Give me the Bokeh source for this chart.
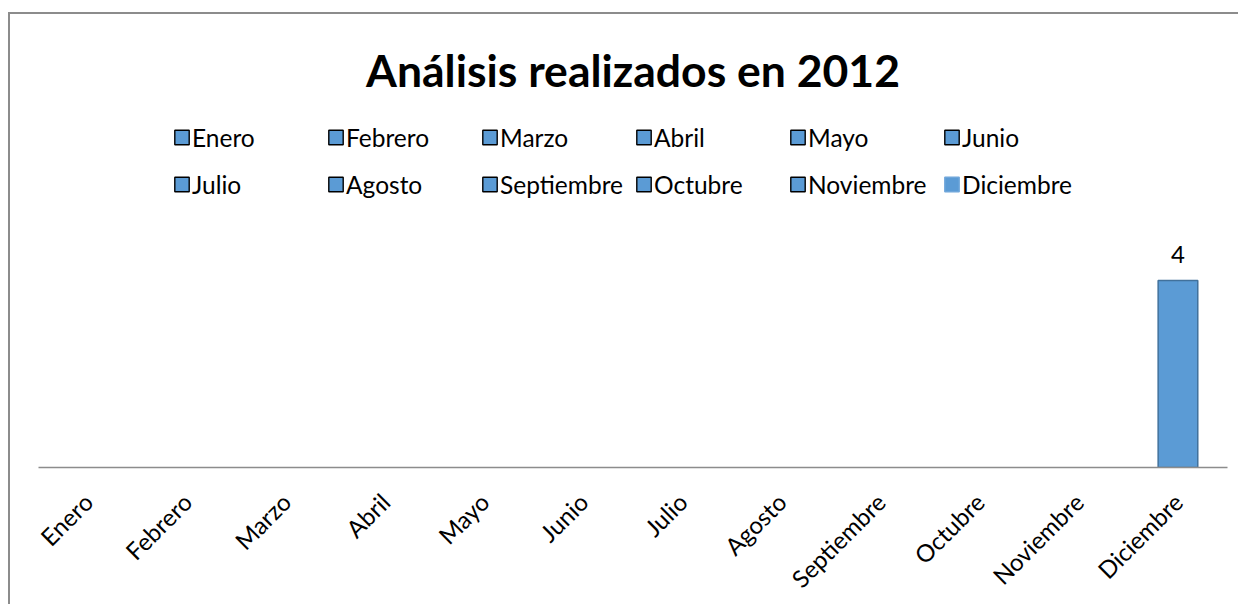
import math
from bokeh.plotting import figure
from bokeh.models import ColumnDataSource, FactorRange, Range1d, Legend, LegendItem, LabelSet
from bokeh.core.properties import value
from bokeh.embed import file_html
from bokeh.resources import INLINE

# ---- data ----
title_text = "Análisis realizados en 2012"
months = ["Enero", "Febrero", "Marzo", "Abril", "Mayo", "Junio",
          "Julio", "Agosto", "Septiembre", "Octubre", "Noviembre", "Diciembre"]
values = [0, 0, 0, 0, 0, 0, 0, 0, 0, 0, 0, 4]

# ---- styles ----
FONT = "Lato"
BAR_FILL = "#5B9BD5"
BAR_LINE = "#41719C"
AXIS_GRAY = "#8C8C8C"

bar_line_alpha = [1.0 if v > 0 else 0.0 for v in values]
legend_line = ["#000000" if v == 0 else "#6FA6DA" for v in values]

src = ColumnDataSource(dict(month=months, value=values,
                            bar_line_alpha=bar_line_alpha,
                            legend_line=legend_line))

lbl_months = [m for m, v in zip(months, values) if v > 0]
lbl_values = [v for v in values if v > 0]
lbl_src = ColumnDataSource(dict(month=lbl_months, value=lbl_values,
                                text=[str(v) for v in lbl_values]))

p = figure(x_range=FactorRange(*months, range_padding=0),
           y_range=Range1d(0, 7.74),
           width=1230, height=592,
           output_backend="svg", toolbar_location=None,
           min_border_left=28, min_border_right=13,
           min_border_top=91, min_border_bottom=139)

p.styles = {"border-top": f"2px solid {AXIS_GRAY}",
            "border-left": f"2px solid {AXIS_GRAY}",
            "margin-top": "12px",
            "margin-left": "8px"}

p.vbar(x="month", top="value", bottom=0, width=0.4, source=src,
       fill_color=BAR_FILL, line_color=BAR_LINE,
       line_alpha="bar_line_alpha", line_width=1.5)

legend_r = p.vbar(x="month", top="value", bottom=0, width=0.4, source=src,
                  fill_color=BAR_FILL, line_color="legend_line",
                  line_width=1.4, visible=False)

labels = LabelSet(x="month", y="value", text="text", source=lbl_src,
                  text_align="center", text_baseline="alphabetic",
                  y_offset=17, text_font=value(FONT), text_font_size="24px",
                  text_color="#000000")
p.add_layout(labels)

legend = Legend(items=[LegendItem(label=m, renderers=[legend_r], index=i)
                       for i, m in enumerate(months)],
                location="top_center", orientation="horizontal", ncols=6,
                label_text_font=FONT, label_text_font_size="24.5px",
                label_text_color="#000000",
                glyph_width=18, glyph_height=18, label_standoff=2,
                label_width=131, label_height=44, spacing=3,
                padding=0, margin=10,
                border_line_alpha=0, background_fill_alpha=0)
p.add_layout(legend)

p.title.text = title_text
p.title.align = "center"
p.title.text_font = FONT
p.title.text_font_size = "44.5px"
p.title.text_font_style = "bold"
p.title.text_color = "#000000"
p.title.standoff = 20

p.xaxis.axis_line_color = AXIS_GRAY
p.xaxis.axis_line_width = 1.5
p.xaxis.major_tick_line_color = None
p.xaxis.minor_tick_line_color = None
p.xaxis.major_label_orientation = math.pi / 4
p.xaxis.major_label_text_font = FONT
p.xaxis.major_label_text_font_size = "24px"
p.xaxis.major_label_text_color = "#000000"
p.xaxis.major_label_standoff = 24
p.yaxis.visible = False
p.grid.visible = False
p.outline_line_color = None

open("out.html", "w").write(file_html(p, INLINE))
